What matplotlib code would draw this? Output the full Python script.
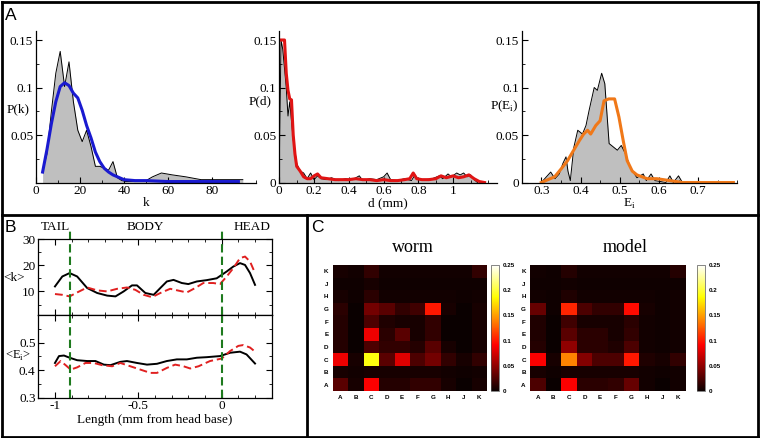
import numpy as np
import matplotlib.pyplot as plt
from matplotlib.lines import Line2D
from matplotlib.ticker import MultipleLocator

plt.rcParams['font.family'] = ['Liberation Serif', 'DejaVu Serif']
plt.rcParams['mathtext.fontset'] = 'custom'
plt.rcParams['mathtext.rm'] = 'Liberation Serif'

# ---- panel A data ----
worm_k = [3, 5, 7, 9, 11, 13, 15, 17, 19, 21, 23, 25, 27, 29, 31, 33, 35, 37, 39, 41,
          45, 50, 53, 57, 62, 68, 75, 85, 94]
worm_pk = [0.012, 0.03, 0.075, 0.115, 0.138, 0.101, 0.127, 0.085, 0.055, 0.043, 0.055,
           0.038, 0.017, 0.017, 0.015, 0.013, 0.022, 0.005, 0.002, 0.001, 0.001, 0.002,
           0.006, 0.01, 0.008, 0.006, 0.003, 0.003, 0.003]
model_k = [3, 5, 7, 9, 11, 13, 15, 17, 19, 21, 23, 25, 27, 29, 31, 33, 35, 37, 40, 45,
           50, 60, 70, 80, 92]
model_pk = [0.011, 0.035, 0.062, 0.085, 0.101, 0.105, 0.102, 0.094, 0.089, 0.076, 0.060,
            0.047, 0.032, 0.022, 0.015, 0.011, 0.008, 0.006, 0.003, 0.002, 0.002, 0.001,
            0.001, 0.001, 0.001]

worm_d = [0.0, 0.01, 0.02, 0.04, 0.05, 0.06, 0.08, 0.10, 0.12, 0.14, 0.16, 0.18, 0.20,
          0.22, 0.24, 0.27, 0.30, 0.34, 0.38, 0.42, 0.46, 0.48, 0.52, 0.56, 0.60, 0.62,
          0.64, 0.68, 0.72, 0.76, 0.78, 0.80, 0.84, 0.88, 0.92, 0.94, 0.97, 0.99, 1.02,
          1.04, 1.06, 1.08, 1.10, 1.12, 1.14]
worm_pd = [0.02, 0.15, 0.14, 0.10, 0.07, 0.085, 0.045, 0.02, 0.012, 0.01, 0.004, 0.01,
           0.003, 0.007, 0.004, 0.003, 0.005, 0.002, 0.004, 0.003, 0.007, 0.002, 0.004,
           0.003, 0.006, 0.01, 0.003, 0.002, 0.004, 0.002, 0.008, 0.003, 0.003, 0.004,
           0.007, 0.004, 0.009, 0.006, 0.01, 0.008, 0.01, 0.006, 0.008, 0.003, 0.0]
model_d = [0.012, 0.02, 0.03, 0.04, 0.05, 0.06, 0.07, 0.08, 0.09, 0.10, 0.12, 0.14, 0.16,
           0.18, 0.20, 0.22, 0.24, 0.28, 0.32, 0.36, 0.40, 0.44, 0.48, 0.52, 0.56, 0.60,
           0.64, 0.68, 0.72, 0.75, 0.77, 0.79, 0.82, 0.86, 0.90, 0.93, 0.96, 1.00, 1.03,
           1.06, 1.09, 1.12, 1.15, 1.18]
model_pd = [0.15, 0.15, 0.15, 0.115, 0.097, 0.088, 0.087, 0.05, 0.03, 0.017, 0.012, 0.006,
            0.004, 0.004, 0.007, 0.009, 0.005, 0.004, 0.003, 0.003, 0.003, 0.004, 0.003,
            0.003, 0.002, 0.003, 0.002, 0.002, 0.003, 0.004, 0.01, 0.004, 0.003, 0.003,
            0.004, 0.007, 0.005, 0.007, 0.005, 0.006, 0.008, 0.004, 0.001, 0.0]

worm_e = [0.30, 0.324, 0.335, 0.346, 0.355, 0.363, 0.368, 0.374, 0.383, 0.393, 0.405,
          0.414, 0.422, 0.435, 0.443, 0.454, 0.462, 0.473, 0.494, 0.504, 0.515, 0.527,
          0.544, 0.56, 0.568, 0.58, 0.59, 0.618, 0.628, 0.637, 0.65, 0.66]
worm_pe = [0.0, 0.011, 0.004, 0.009, 0.02, 0.027, 0.012, 0.002, 0.037, 0.055, 0.051,
           0.06, 0.076, 0.1, 0.097, 0.115, 0.104, 0.041, 0.034, 0.039, 0.03, 0.016,
           0.005, 0.009, 0.002, 0.009, 0.002, 0.0, 0.007, 0.0, 0.007, 0.0]
model_e = [0.30, 0.317, 0.334, 0.35, 0.367, 0.384, 0.397, 0.408, 0.418, 0.426, 0.439,
           0.45, 0.46, 0.472, 0.487, 0.498, 0.509, 0.519, 0.532, 0.544, 0.57, 0.595,
           0.628, 0.66, 0.79]
model_pe = [0.0, 0.003, 0.006, 0.014, 0.023, 0.035, 0.044, 0.051, 0.055, 0.051, 0.06,
            0.065, 0.086, 0.088, 0.088, 0.069, 0.044, 0.023, 0.012, 0.008, 0.004, 0.004,
            0.002, 0.0, 0.0]

# ---- panel B data ----
pos_k = [-1.0, -0.956, -0.912, -0.867, -0.807, -0.747, -0.687, -0.637, -0.588, -0.538,
         -0.508, -0.458, -0.408, -0.368, -0.329, -0.289, -0.239, -0.2, -0.149, -0.09,
         -0.03, 0.03, 0.07, 0.11, 0.14, 0.17, 0.2]
worm_kpos = [11.9, 15.7, 17.0, 15.7, 11.3, 9.4, 8.4, 8.1, 10.0, 12.3, 12.3, 9.4, 8.7,
             11.3, 13.8, 14.4, 13.2, 12.8, 13.8, 14.3, 15.0, 17.6, 19.5, 20.8, 20.1,
             17.0, 12.5]
pos_k2 = [-1.0, -0.956, -0.912, -0.867, -0.807, -0.747, -0.687, -0.627, -0.568, -0.518,
          -0.468, -0.418, -0.368, -0.309, -0.259, -0.209, -0.159, -0.11, -0.05, -0.01,
          0.03, 0.07, 0.11, 0.14, 0.17, 0.2]
model_kpos = [9.0, 8.7, 8.1, 9.6, 11.5, 10.4, 10.0, 11.0, 11.5, 10.6, 8.7, 7.8, 9.4,
              11.0, 10.3, 9.6, 11.3, 13.2, 13.2, 12.8, 15.7, 18.9, 22.7, 23.3, 21.4, 17.0]

pos_e = [-1.0, -0.976, -0.946, -0.912, -0.867, -0.807, -0.757, -0.707, -0.667, -0.608,
         -0.568, -0.508, -0.448, -0.388, -0.329, -0.269, -0.209, -0.149, -0.09, -0.01,
         0.05, 0.11, 0.149, 0.2]
worm_epos = [0.426, 0.451, 0.453, 0.445, 0.436, 0.433, 0.433, 0.42, 0.418, 0.43, 0.433,
             0.426, 0.42, 0.423, 0.433, 0.439, 0.439, 0.445, 0.447, 0.451, 0.463, 0.467,
             0.457, 0.424]
pos_e2 = [-1.0, -0.966, -0.936, -0.906, -0.867, -0.817, -0.767, -0.717, -0.657, -0.608,
          -0.548, -0.488, -0.428, -0.388, -0.329, -0.279, -0.229, -0.189, -0.139, -0.07,
          0.0, 0.05, 0.1, 0.13, 0.17, 0.2]
model_epos = [0.414, 0.433, 0.418, 0.402, 0.41, 0.426, 0.426, 0.418, 0.414, 0.426, 0.414,
              0.402, 0.39, 0.39, 0.408, 0.42, 0.414, 0.406, 0.414, 0.433, 0.442, 0.469,
              0.488, 0.491, 0.482, 0.467]
region_bounds = [-0.91, 0.0]

# ---- panel C data (rows A..K from bottom, columns A..K) ----
segments = ['A', 'B', 'C', 'D', 'E', 'F', 'G', 'H', 'J', 'K']
worm_matrix = [
    [0.030, 0.005, 0.090, 0.010, 0.010, 0.015, 0.015, 0.005, 0.000, 0.005],
    [0.005, 0.003, 0.005, 0.005, 0.005, 0.005, 0.005, 0.003, 0.002, 0.003],
    [0.085, 0.005, 0.190, 0.030, 0.080, 0.025, 0.040, 0.015, 0.005, 0.015],
    [0.010, 0.000, 0.025, 0.015, 0.015, 0.010, 0.030, 0.005, 0.000, 0.005],
    [0.010, 0.000, 0.085, 0.012, 0.030, 0.005, 0.015, 0.000, 0.000, 0.005],
    [0.010, 0.000, 0.025, 0.008, 0.005, 0.005, 0.015, 0.000, 0.000, 0.005],
    [0.012, 0.000, 0.040, 0.030, 0.015, 0.020, 0.100, 0.005, 0.000, 0.005],
    [0.005, 0.002, 0.012, 0.003, 0.003, 0.003, 0.003, 0.003, 0.002, 0.003],
    [0.002, 0.002, 0.005, 0.002, 0.002, 0.002, 0.002, 0.002, 0.002, 0.002],
    [0.005, 0.003, 0.015, 0.003, 0.003, 0.003, 0.003, 0.003, 0.003, 0.015],
]
model_matrix = [
    [0.025, 0.000, 0.090, 0.012, 0.012, 0.015, 0.035, 0.003, 0.000, 0.003],
    [0.005, 0.002, 0.005, 0.005, 0.005, 0.005, 0.005, 0.003, 0.002, 0.003],
    [0.090, 0.005, 0.140, 0.045, 0.025, 0.025, 0.100, 0.008, 0.005, 0.015],
    [0.010, 0.000, 0.050, 0.012, 0.012, 0.008, 0.025, 0.003, 0.002, 0.003],
    [0.008, 0.000, 0.030, 0.012, 0.012, 0.005, 0.015, 0.003, 0.002, 0.003],
    [0.008, 0.000, 0.020, 0.005, 0.005, 0.005, 0.012, 0.003, 0.002, 0.003],
    [0.035, 0.002, 0.105, 0.025, 0.015, 0.015, 0.095, 0.005, 0.002, 0.003],
    [0.003, 0.002, 0.008, 0.003, 0.003, 0.003, 0.003, 0.003, 0.002, 0.003],
    [0.002, 0.002, 0.003, 0.002, 0.002, 0.002, 0.002, 0.002, 0.002, 0.002],
    [0.003, 0.002, 0.010, 0.003, 0.003, 0.003, 0.003, 0.003, 0.003, 0.010],
]
cbar_ticks = [0, 0.05, 0.1, 0.15, 0.2, 0.25]
cbar_labels = ['0', '0.05', '0.1', '0.15', '0.2', '0.25']

W, H = 760, 438
FS = 9.5
fig = plt.figure(figsize=(W / 100, H / 100), dpi=100)


def box(l, t, r, b):
    return [l / W, 1 - b / H, (r - l) / W, (b - t) / H]


def style(ax, full=False):
    if not full:
        ax.spines['top'].set_visible(False)
        ax.spines['right'].set_visible(False)
    for s in ax.spines.values():
        s.set_linewidth(0.9)
    ax.tick_params(which='major', direction='in', length=4, width=0.8, labelsize=FS,
                   top=full, right=full, pad=2)
    ax.tick_params(which='minor', direction='in', length=2, width=0.6,
                   top=full, right=full)


# ---- panel A ----
GREY = '#bfbfbf'
axk = fig.add_axes(box(36, 30.5, 256, 182.5))
axk.fill_between(worm_k, worm_pk, color=GREY, lw=0)
axk.plot(worm_k, worm_pk, color='k', lw=0.7)
axk.plot(model_k, model_pk, color='#1a1ad0', lw=2.2)
axk.set_xlim(0, 100)
axk.set_ylim(0, 0.16)
axk.set_xticks([0, 20, 40, 60, 80])
axk.set_yticks([0.05, 0.1, 0.15])
axk.set_yticklabels(['0.05', '0.1', '0.15'])
axk.xaxis.set_minor_locator(MultipleLocator(10))
axk.yaxis.set_minor_locator(MultipleLocator(0.025))
style(axk)
axk.set_xlabel('k', fontsize=FS, labelpad=0)
axk.text(-0.03, 0.48, 'P(k)', transform=axk.transAxes, ha='right', va='center', fontsize=FS)

axd = fig.add_axes(box(279.3, 30.5, 496.7, 182.5))
axd.fill_between(worm_d, worm_pd, color=GREY, lw=0)
axd.plot(worm_d, worm_pd, color='k', lw=0.7)
axd.plot(model_d, model_pd, color='#e01414', lw=2.2)
axd.set_xlim(0, 1.25)
axd.set_ylim(0, 0.16)
axd.set_xticks([0, 0.2, 0.4, 0.6, 0.8, 1.0])
axd.set_xticklabels(['0', '0.2', '0.4', '0.6', '0.8', '1'])
axd.set_yticks([0, 0.05, 0.1, 0.15])
axd.set_yticklabels(['0', '0.05', '0.1', '0.15'])
axd.xaxis.set_minor_locator(MultipleLocator(0.1))
axd.yaxis.set_minor_locator(MultipleLocator(0.025))
style(axd)
axd.set_xlabel('d (mm)', fontsize=FS, labelpad=0)
axd.text(-0.035, 0.535, 'P(d)', transform=axd.transAxes, ha='right', va='center', fontsize=FS)

axe = fig.add_axes(box(521.7, 30.5, 737.3, 182.5))
axe.fill_between(worm_e, worm_pe, color=GREY, lw=0)
axe.plot(worm_e, worm_pe, color='k', lw=0.7)
axe.plot(model_e, model_pe, color='#f07818', lw=2.2)
axe.set_xlim(0.25, 0.8)
axe.set_ylim(0, 0.16)
axe.set_xticks([0.3, 0.4, 0.5, 0.6, 0.7])
axe.set_yticks([0, 0.05, 0.1, 0.15])
axe.set_yticklabels(['0', '0.05', '0.1', '0.15'])
axe.xaxis.set_minor_locator(MultipleLocator(0.05))
axe.yaxis.set_minor_locator(MultipleLocator(0.025))
style(axe)
axe.set_xlabel(r'E$_\mathregular{i}$', fontsize=FS, labelpad=0)
axe.text(-0.012, 0.5, r'P(E$_\mathregular{i}$)', transform=axe.transAxes, ha='right',
         va='center', fontsize=FS)

# ---- panel B ----
GREEN = '#1e7a1e'
axb1 = fig.add_axes(box(38.3, 239, 271.7, 315))
axb2 = fig.add_axes(box(38.3, 315, 271.7, 397.7))
axb1.plot(pos_k, worm_kpos, color='k', lw=1.4)
axb1.plot(pos_k2, model_kpos, color='#e02020', lw=1.4, ls=(0, (4, 2)))
axb2.plot(pos_e, worm_epos, color='k', lw=1.4)
axb2.plot(pos_e2, model_epos, color='#e02020', lw=1.4, ls=(0, (4, 2)))
for ax in (axb1, axb2):
    ax.set_xlim(-1.1, 0.3)
    ax.xaxis.set_minor_locator(MultipleLocator(0.1))
    style(ax, full=True)
for xb in region_bounds:
    axb1.axvline(xb, ymin=0, ymax=1.15, color=GREEN, lw=1.5, ls=(0, (4, 2)), clip_on=False)
    axb2.axvline(xb, color=GREEN, lw=1.5, ls=(0, (4, 2)))
axb1.set_ylim(1, 30)
axb1.set_yticks([10, 20, 30])
axb1.yaxis.set_minor_locator(MultipleLocator(5))
axb1.set_xticks([-1, -0.5, 0])
axb1.tick_params(labelbottom=False)
axb2.set_ylim(0.3, 0.6)
axb2.set_yticks([0.3, 0.4, 0.5])
axb2.yaxis.set_minor_locator(MultipleLocator(0.05))
axb2.set_xticks([-1, -0.5, 0])
axb2.set_xticklabels(['-1', '-0.5', '0'])
axb2.set_xlabel('Length (mm from head base)', fontsize=FS, labelpad=1)
axb1.text(-0.055, 0.49, '<k>', transform=axb1.transAxes, ha='right', va='center', fontsize=FS)
fig.text(5 / W, 1 - 356 / H, r'<E$_\mathregular{i}$>', ha='left', va='center', fontsize=9)
for lab, xl in (('TAIL', -1.0), ('BODY', -0.46), ('HEAD', 0.18)):
    axb1.text(xl, 1.16, lab, transform=axb1.get_xaxis_transform(), ha='center',
              va='center', fontsize=FS)

# ---- panel C ----
def heat(ax_box, cax_box, mat, title, tx):
    ax = fig.add_axes(box(*ax_box))
    im = ax.imshow(np.array(mat), cmap='hot', vmin=0, vmax=0.25, origin='lower',
                   aspect='auto', interpolation='nearest')
    ax.set_xticks(range(len(segments)))
    ax.set_yticks(range(len(segments)))
    ax.set_xticklabels(segments)
    ax.set_yticklabels(segments)
    ax.tick_params(length=0, labelsize=4.5, pad=3)
    for t in ax.get_xticklabels() + ax.get_yticklabels():
        t.set_family('Liberation Sans')
        t.set_fontweight('bold')
    for s in ax.spines.values():
        s.set_visible(False)
    cax = fig.add_axes(box(*cax_box))
    cb = fig.colorbar(im, cax=cax, ticks=cbar_ticks)
    cb.ax.set_yticklabels(cbar_labels)
    cb.ax.tick_params(length=0, labelsize=4.5, pad=3)
    for t in cb.ax.get_yticklabels():
        t.set_family('Liberation Sans')
        t.set_fontweight('bold')
    cb.outline.set_linewidth(0.5)
    cb.outline.set_edgecolor('#555555')
    fig.text(tx / W, 1 - 248 / H, title, ha='center', va='center', fontsize=13)


heat((332.7, 265, 486.7, 391), (491, 265, 499, 391), worm_matrix, 'worm', 413)
heat((530, 265, 685.7, 391), (696.7, 265, 705, 391), model_matrix, 'model', 625)

# ---- panel frames and letters ----
def hline(x0, x1, y):
    fig.add_artist(Line2D([x0 / W, x1 / W], [1 - y / H, 1 - y / H], color='k', lw=2))


def vline(x, y0, y1):
    fig.add_artist(Line2D([x / W, x / W], [1 - y0 / H, 1 - y1 / H], color='k', lw=2))


hline(1.5, 758, 1.5)
hline(1.5, 758, 215)
hline(1.5, 758, 436.5)
vline(1.5, 1.5, 436.5)
vline(758, 1.5, 436.5)
vline(306.5, 215, 436.5)

for lab, x, y in (('A', 5, 16), ('B', 5, 227), ('C', 311, 227)):
    fig.text(x / W, 1 - y / H, lab, family='Liberation Sans', fontsize=12.5,
             ha='left', va='center')

fig.savefig('out.png', dpi=100)
